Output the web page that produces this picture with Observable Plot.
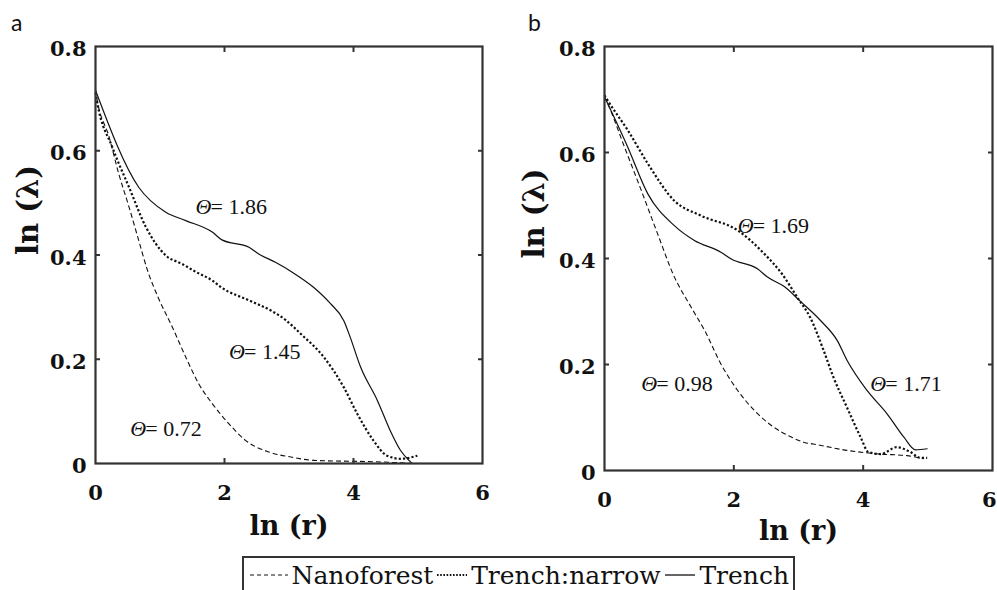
<!DOCTYPE html>
<html>
<head>
<meta charset="utf-8">
<script src="https://cdn.jsdelivr.net/npm/d3@7"></script>
<script src="https://cdn.jsdelivr.net/npm/@observablehq/plot@0.6"></script>
<style>
  html, body { margin: 0; padding: 0; background: #fff; width: 997px; height: 590px; overflow: hidden; }
  #wrap { position: relative; width: 997px; height: 590px; }
  .panel { position: absolute; top: 0; }
  .letter { position: absolute; z-index: 5; font-family: "Lato", "Open Sans", sans-serif; font-size: 23px; color: #111; }
  #legend { position: absolute; z-index: 5; left: 242px; top: 556px; width: 553px; height: 46px; border: 2px solid #333; box-sizing: border-box; background: #fff;
            display: flex; align-items: center; font-family: "DejaVu Serif", serif; font-size: 25px; color: #111; padding: 0 0 8px 6px; }
  #legend svg { display: block; margin: 0 4px 0 0; }
  #legend span { margin-right: 4px; }
</style>
</head>
<body>
<div id="wrap">
  <div id="panelA" class="panel" style="left:0px;"></div>
  <div id="panelB" class="panel" style="left:509px;"></div>
  <div class="letter" style="left:11px; top:8px;">a</div>
  <div class="letter" style="left:528px; top:8px;">b</div>
  <div id="legend"></div>
</div>
<script>
// ---------- data ----------
const xTicks = [0, 2, 4];
const xLastTick = [6];
const yTicks = [0, 0.2, 0.4, 0.6, 0.8];
const innerXTicks = [2, 4];
const innerYTicks = [0.2, 0.4, 0.6];
const seriesNames = ["Nanoforest", "Trench:narrow", "Trench"];

// panel a
const aNanoforest = [[0,0.716],[0.026,0.697],[0.21,0.627],[0.36,0.556],[0.52,0.492],[0.67,0.428],[0.80,0.373],[0.98,0.316],[1.19,0.262],[1.40,0.204],[1.60,0.153],[1.81,0.115],[2.07,0.076],[2.33,0.044],[2.69,0.022],[3.05,0.012],[3.38,0.006],[4.42,0.003],[4.93,0.0]];
const aNarrow = [[0,0.712],[0.026,0.693],[0.26,0.607],[0.52,0.530],[0.78,0.454],[1.09,0.399],[1.34,0.383],[1.55,0.368],[1.81,0.351],[1.96,0.337],[2.38,0.313],[2.74,0.292],[2.95,0.275],[3.18,0.249],[3.54,0.204],[3.85,0.146],[4.06,0.095],[4.31,0.044],[4.52,0.015],[4.73,0.009],[4.99,0.015]];
const aTrench = [[0,0.716],[0.67,0.530],[1.09,0.482],[1.40,0.466],[1.81,0.444],[1.96,0.429],[2.38,0.415],[2.53,0.402],[2.79,0.386],[3.05,0.367],[3.38,0.338],[3.64,0.307],[3.85,0.274],[3.95,0.242],[4.11,0.185],[4.37,0.121],[4.57,0.063],[4.73,0.025],[4.86,0.006],[4.91,0.0]];
const aLabels = [{x:1.55, y:0.492, v:"1.86"}, {x:2.07, y:0.214, v:"1.45"}, {x:0.54, y:0.067, v:"0.72"}];

// panel b
const bNanoforest = [[0,0.705],[0.05,0.692],[0.31,0.610],[0.57,0.528],[0.82,0.447],[1.07,0.368],[1.34,0.308],[1.55,0.264],[1.80,0.201],[2.06,0.151],[2.32,0.113],[2.58,0.085],[2.89,0.063],[3.09,0.053],[3.23,0.050],[3.75,0.038],[4.27,0.031],[4.68,0.028],[4.94,0.022]];
const bNarrow = [[0,0.708],[0.05,0.698],[0.36,0.642],[0.67,0.579],[1.08,0.509],[1.49,0.481],[2.06,0.453],[2.47,0.409],[2.75,0.37],[2.98,0.327],[3.18,0.289],[3.39,0.226],[3.54,0.176],[3.75,0.119],[3.96,0.063],[4.08,0.035],[4.27,0.031],[4.52,0.044],[4.73,0.035],[4.88,0.024],[4.99,0.024]];
const bTrench = [[0,0.705],[0.36,0.610],[0.67,0.522],[1.08,0.462],[1.39,0.434],[1.80,0.412],[1.96,0.399],[2.37,0.380],[2.52,0.365],[2.78,0.347],[3.03,0.319],[3.34,0.283],[3.60,0.245],[3.75,0.208],[4.06,0.151],[4.37,0.107],[4.63,0.063],[4.81,0.039],[4.99,0.041]];
const bLabels = [{x:2.06, y:0.462, v:"1.69"}, {x:0.57, y:0.164, v:"0.98"}, {x:4.11, y:0.164, v:"1.71"}];

// ---------- drawing ----------
const ink = "#111";
const axisFont = "DejaVu Serif";
const noteFont = "Liberation Serif";

function panel({nano, narrow, trench, labels, width, height, marginRight, ylabDx, xlabDy, lastDx}) {
  const X = d => d[0], Y = d => d[1];
  const tickText = {anchor: "bottom", tickSize: 0, tickPadding: 22, label: null, fontSize: 21, fontWeight: "bold", fill: ink, fontFamily: axisFont, tickFormat: d => String(d)};
  return Plot.plot({
    width, height,
    marginLeft: 95, marginRight, marginTop: 46, marginBottom: 82,
    x: {domain: [0, 6]},
    y: {domain: [0, 0.8]},
    style: {fontFamily: axisFont, background: "white", overflow: "visible"},
    marks: [
      // curves
      Plot.line(nano, {x: X, y: Y, stroke: ink, strokeWidth: 1.1, strokeDasharray: "5,3", strokeLinecap: "butt", curve: "monotone-x"}),
      Plot.line(narrow, {x: X, y: Y, stroke: ink, strokeWidth: 2.2, strokeDasharray: "2.2,2.1", strokeLinecap: "butt", curve: "monotone-x"}),
      Plot.line(trench, {x: X, y: Y, stroke: ink, strokeWidth: 1.2, curve: "monotone-x"}),
      // inner ticks on all four sides
      Plot.axisX(innerXTicks, {anchor: "bottom", tickSize: -5, tickFormat: () => "", label: null, stroke: "#333", strokeWidth: 2}),
      Plot.axisX(innerXTicks, {anchor: "top", tickSize: -5, tickFormat: () => "", label: null, stroke: "#333", strokeWidth: 2}),
      Plot.axisY(innerYTicks, {anchor: "left", tickSize: -5, tickFormat: () => "", label: null, stroke: "#333", strokeWidth: 2}),
      Plot.axisY(innerYTicks, {anchor: "right", tickSize: -5, tickFormat: () => "", label: null, stroke: "#333", strokeWidth: 2}),
      // tick labels
      Plot.axisX(xTicks, tickText),
      Plot.axisX(xLastTick, {...tickText, textAnchor: lastDx ? "end" : "middle", dx: lastDx || 0}),
      Plot.axisY(yTicks, {anchor: "left", tickSize: 0, tickPadding: 9, label: null, fontSize: 21, fontWeight: "bold", fill: ink, fontFamily: axisFont, dy: 3, tickFormat: d => d === 0 ? "0" : d3.format(".1f")(d)}),
      Plot.frame({stroke: "#333", strokeWidth: 2.2}),
      // axis titles
      Plot.text(["ln (λ)"], {frameAnchor: "left", text: d => d, rotate: -90, dx: ylabDx, fontSize: 29, fontWeight: "bold", fill: ink, fontFamily: axisFont, lineAnchor: "middle"}),
      Plot.text(["ln (r)"], {frameAnchor: "bottom", text: d => d, dy: xlabDy, fontSize: 27, fontWeight: "bold", fill: ink, fontFamily: axisFont, lineAnchor: "middle"}),
      // Θ annotations
      Plot.text(labels, {x: "x", y: "y", text: () => "Θ", textAnchor: "start", lineAnchor: "middle", fontSize: 22, fontStyle: "italic", fill: ink, fontFamily: noteFont}),
      Plot.text(labels, {x: "x", y: "y", text: d => "= " + d.v, textAnchor: "start", lineAnchor: "middle", dx: 15, fontSize: 22, fill: ink, fontFamily: noteFont})
    ]
  });
}

document.getElementById("panelA").append(panel({
  nano: aNanoforest, narrow: aNarrow, trench: aTrench, labels: aLabels,
  width: 497, height: 545, marginRight: 15, ylabDx: -67, xlabDy: 63, lastDx: 0
}));
document.getElementById("panelB").append(panel({
  nano: bNanoforest, narrow: bNarrow, trench: bTrench, labels: bLabels,
  width: 488, height: 552, marginRight: 5, ylabDx: -70, xlabDy: 61, lastDx: 4
}));

// legend
const legend = document.getElementById("legend");
const styles = [
  {w: 39, dash: "4,3", sw: 1.2},
  {w: 31, dash: "1.6,1.6", sw: 2},
  {w: 32, dash: null, sw: 1.3}
];
seriesNames.forEach((name, i) => {
  const s = styles[i];
  const svg = d3.create("svg").attr("width", s.w).attr("height", 10);
  svg.append("line").attr("x1", 0).attr("x2", s.w).attr("y1", 5).attr("y2", 5)
    .attr("stroke", ink).attr("stroke-width", s.sw).attr("stroke-dasharray", s.dash);
  legend.append(svg.node());
  const span = document.createElement("span");
  span.textContent = name;
  legend.append(span);
});
</script>
</body>
</html>
